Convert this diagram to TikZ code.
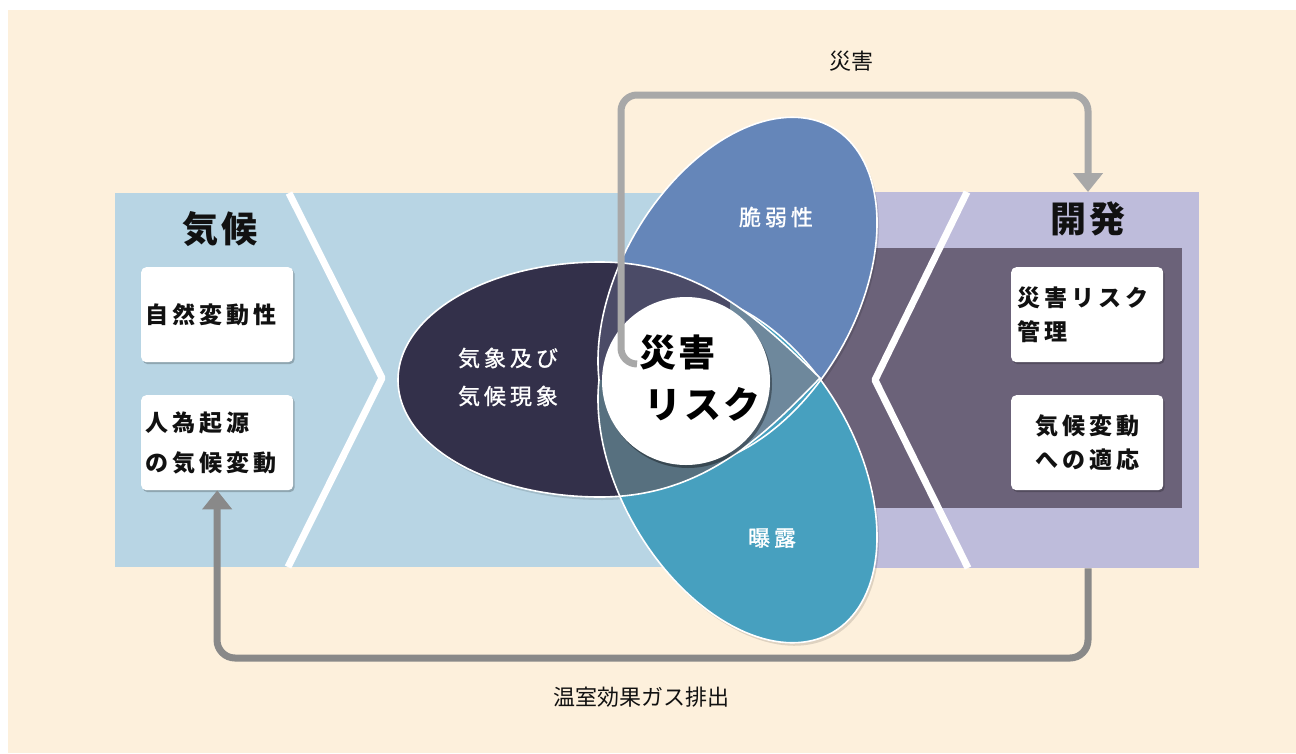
\documentclass[tikz,border=0pt]{standalone}
\usepackage{fontspec}
\setmainfont{Noto Sans CJK JP}
\newfontfamily\jpsp[LetterSpace=18]{Noto Sans CJK JP}
\newfontfamily\jpspm[LetterSpace=18,FakeBold=1.2]{Noto Sans CJK JP}
\newfontfamily\jpspb[LetterSpace=6]{Noto Sans CJK JP}
\usetikzlibrary{arrows.meta,shadows}
\definecolor{cream}{HTML}{FDF0DC}
\definecolor{climbg}{HTML}{B8D5E4}
\definecolor{devbg}{HTML}{BEBCDB}
\definecolor{devdark}{HTML}{6B6279}
\definecolor{darkc}{HTML}{33304A}
\definecolor{bluec}{HTML}{6586B9}
\definecolor{cyanc}{HTML}{47A0BF}
\definecolor{dbc}{HTML}{4B4B67}
\definecolor{dcc}{HTML}{57707F}
\definecolor{triplec}{HTML}{6E889C}
\definecolor{arrowA}{HTML}{A8A8A8}
\definecolor{arrowB}{HTML}{898989}
\definecolor{txt}{HTML}{111111}
\begin{document}
\begin{tikzpicture}[x=1pt,y=-1pt,
  panel/.style={inner sep=0pt, anchor=north west},
  chev/.style={draw=white, line width=7pt, line join=round},
  title/.style={font=\fontsize{36}{40}\selectfont\jpspb\bfseries, text=txt, inner sep=0pt},
  box/.style={fill=white, rounded corners=5pt, minimum width=152pt, minimum height=95pt, inner ysep=0pt,
      anchor=north west, text=txt, drop shadow={shadow xshift=1.5pt, shadow yshift=-2pt, opacity=.22, fill=black}},
  boxfont/.style={font=\fontsize{23}{#1}\selectfont\jpsp\bfseries},
  petaltxt/.style={font=\fontsize{22}{38}\selectfont\jpspm, text=white, inner sep=0pt, align=center},
  lab/.style={font=\fontsize{22}{26}\selectfont, text=txt, inner sep=0pt},
  darkegg/.style={insert path={(820,378) .. controls (760,320) and (700,262) .. (600,262)
      .. controls (488,262) and (398,315) .. (398,380)
      .. controls (398,445) and (488,497) .. (600,497)
      .. controls (700,497) and (760,440) .. (820,378) -- cycle}},
  bluepath/.style={insert path={plot[variable=\t,domain=0:360,samples=145]
      ({737.5+95*cos(\t)+102.2*sin(\t)},{292-164.5*cos(\t)+59*sin(\t)}) -- cycle}},
  cyanpath/.style={insert path={plot[variable=\t,domain=0:360,samples=145]
      ({737.5+95*cos(\t)+102.2*sin(\t)},{468+164.5*cos(\t)-59*sin(\t)}) -- cycle}},
  edge/.style={draw=white, line width=1.6pt},
  flowA/.style={draw=arrowA, line width=7pt, rounded corners=16pt, -{Triangle[width=29pt,length=19pt]}},
  flowB/.style={draw=arrowB, line width=7pt, rounded corners=18pt, -{Triangle[width=29pt,length=19pt]}}
]
\useasboundingbox (0,0) rectangle (1296,753);
\fill[white] (0,0) rectangle (1296,753);
\fill[cream] (8,10) rectangle (1296,753);

% panels
\node[panel, fill=climbg, minimum width=645pt, minimum height=374pt] (climpanel) at (115,193) {};
\node[panel, fill=devbg, minimum width=439pt, minimum height=376pt] (devpanel) at (760,192) {};
\node[panel, fill=devdark, minimum width=422pt, minimum height=260pt] (devinner) at (760,248) {};

% chevrons
\draw[chev] (289,193) -- (382,378) -- (288,567);
\draw[chev] (967,192) -- (875,380) -- (968,568);

% titles
\node[title] (kikou) at (220,229) {気候};
\node[title] (kaihatsu) at (1088,219) {開発};

% boxes
\node[box, inner xsep=4pt, text width=144pt, align=left, boxfont=40] (lbox1) at (141,267) {自然変動性};
\node[box, inner xsep=4pt, text width=144pt, align=left, boxfont=40] (lbox2) at (141,395) {人為起源\\の気候変動};
\node[box, inner xsep=6pt, text width=140pt, align=left, boxfont=34] (rbox1) at (1011,267) {災害リスク\\管理};
\node[box, inner xsep=4pt, text width=144pt, align=center, boxfont=34] (rbox2) at (1011,395) {気候変動\\への適応};

% petal shadows
\begin{scope}[shift={(2,3)}]
  \fill[black, opacity=.12, bluepath];
  \fill[black, opacity=.12, cyanpath];
  \fill[black, opacity=.12, darkegg];
\end{scope}

% fills
\fill[darkc, darkegg];
\fill[bluec, bluepath];
\fill[cyanc, cyanpath];
\begin{scope}
  \clip[darkegg];
  \begin{scope}
    \clip (580,240) rectangle (830,380);
    \fill[dbc, bluepath];
  \end{scope}
  \begin{scope}
    \clip (580,380) rectangle (830,520);
    \fill[dcc, cyanpath];
  \end{scope}
  \fill[triplec] (730,240) rectangle (830,520);
\end{scope}

% outlines
\begin{scope}[even odd rule]
  \clip[darkegg] (0,0) rectangle (1296,753);
  \draw[edge, bluepath];
  \draw[edge, cyanpath];
\end{scope}
\begin{scope}
  \clip[darkegg];
  \clip (580,240) rectangle (830,380);
  \draw[edge, bluepath];
\end{scope}
\begin{scope}
  \clip[darkegg];
  \clip (580,380) rectangle (830,520);
  \draw[edge, cyanpath];
\end{scope}
\draw[edge, darkegg];

% petal labels
\node[petaltxt] (weather) at (508,377) {気象及び\\気候現象};
\node[petaltxt] (vuln) at (776,217) {脆弱性};
\node[petaltxt] (expo) at (772,538) {曝露};

% centre circle
\node[circle, fill=white, minimum size=168pt, inner sep=0pt,
      drop shadow={shadow xshift=2pt, shadow yshift=-3pt, opacity=.35, fill=black}] (riskc) at (686,381) {};
\node[font=\fontsize{37}{52}\selectfont\jpspb\bfseries, text=black, align=left, inner sep=0pt] (risktxt) at (700,378) {災害\\\hspace{5pt}リスク};

% connectors
\coordinate (hs) at (637,364);
\coordinate (devtop) at (1088,192);
\draw[flowA] (hs) -- (621,364) -- (621,95) -- (1088,95) -- (devtop);
\draw[flowB] (devpanel.south -| devtop) -- (1088,658) -- (217,658) -- (lbox2.south);

% connector labels
\node[lab] (labA) at (851,61) {災害};
\node[lab] (labB) at (641,697) {温室効果ガス排出};
\end{tikzpicture}
\end{document}
